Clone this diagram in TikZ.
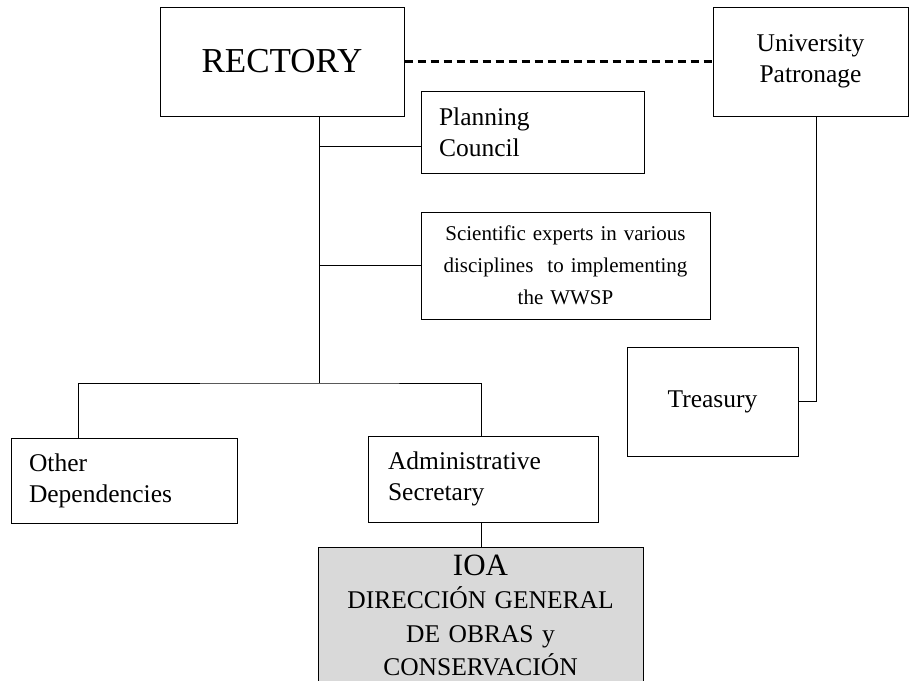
\documentclass[tikz,border=0pt]{standalone}
\usepackage{fontspec}
\setmainfont{Liberation Serif}
\usetikzlibrary{calc}
\usetikzlibrary{positioning}

\begin{document}
\begin{tikzpicture}
	[x=1pt,y=-1pt,
	every node/.style={font=\fontsize{25.5}{31}\selectfont},
	orgbox/.style={draw,line width=1pt,inner sep=0pt},
	leftbox/.style={orgbox,align=left,inner xsep=18pt},
	link/.style={line width=1pt},
	tie/.style={line width=2.2pt,dash pattern=on 8pt off 5pt}]
	\useasboundingbox (0,0) rectangle (909,680);
	\clip (0,0) rectangle (909,680);
	\node[orgbox, minimum width=244pt, minimum height=109pt, font=\fontsize{35}{40}\selectfont] (rectory) at (282,61.5) {RECTORY};
	\node[orgbox, minimum width=195pt, minimum height=109pt, align=center] (patronage) at (810.5,61.5) {University\\Patronage};
	\node[leftbox, text width=187pt, minimum height=82pt] (planning) at (532.5,132) {Planning\\Council};
	\node[orgbox, text width=289pt, minimum height=107pt, align=center, font=\fontsize{21}{32}\selectfont] (experts) at (565.5,265.5) {Scientific experts in various\\disciplines\ \ to implementing\\the WWSP};
	\node[orgbox, minimum width=171pt, minimum height=109pt] (treasury) at (712.5,401.5) {Treasury};
	\node[leftbox, text width=190pt, minimum height=85pt, inner xsep=18pt] (otherdep) at (124,480.5) {Other\\Dependencies};
	\node[leftbox, text width=190pt, minimum height=86pt, inner xsep=20pt] (adminsec) at (483,479) {Administrative\\Secretary};
	\node[orgbox, fill=black!15, anchor=north, text width=325pt, align=center, inner ysep=7pt, font=\fontsize{25.5}{33.5}\selectfont] (ioa) at (480.5,547) {{\fontsize{31}{33.5}\selectfont IOA}\\DIRECCIÓN GENERAL\\DE OBRAS y\\CONSERVACIÓN\\[6pt]};
	\coordinate (bar) at (319,383);
	\coordinate (pcjoin) at ($(planning.west)+(0,14)$);
	\coordinate (adtop) at ($(adminsec.north)+(-2,0)$);
	\coordinate (adfoot) at ($(adminsec.south)+(-2,0)$);
	\draw[tie] (rectory.east) -- (patronage.west);
	\draw[link] ($(rectory.south)+(37,0)$) -- (bar);
	\draw[link] (pcjoin) -- (pcjoin -| bar);
	\draw[link] (experts.west) -- (experts.west -| bar);
	\draw[link] ($(otherdep.north west)+(68,0)$) |- (bar) -| (adtop);
	\draw[link] (adfoot) -- (adfoot |- ioa.north);
	\draw[link] ($(patronage.south)+(6,0)$) |- (treasury.east);
\end{tikzpicture}
\end{document}
